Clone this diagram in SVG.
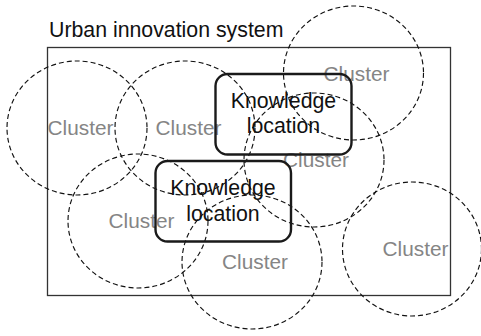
<svg xmlns="http://www.w3.org/2000/svg" width="481" height="336" viewBox="0 0 481 336">
  <style>
    .title { font-family: "Liberation Sans", Arial, sans-serif; font-size: 21.3px; fill: #111; }
    .frame { fill: none; stroke: #333; stroke-width: 1.3; }
    .cluster-ring { fill: none; stroke: #111; stroke-width: 1.15; stroke-dasharray: 5 3; }
    .cluster-label { font-family: "Liberation Sans", Arial, sans-serif; font-size: 20.8px; fill: #858585; text-anchor: middle; }
    .knowledge-box { fill: none; stroke: #1a1a1a; stroke-width: 2.4; }
    .knowledge-label { font-family: "Liberation Sans", Arial, sans-serif; font-size: 21.3px; fill: #111; text-anchor: middle; }
  </style>
  <rect width="481" height="336" fill="#fff"/>

  <!-- system boundary -->
  <g id="urban-innovation-system">
    <text class="title" x="49" y="37">Urban innovation system</text>
    <rect class="frame" x="47.5" y="47.5" width="403" height="248"/>
  </g>

  <!-- clusters: dashed rings with labels -->
  <g id="cluster-1">
    <ellipse class="cluster-ring" cx="77" cy="128" rx="70" ry="67"/>
    <text class="cluster-label" x="80.5" y="135">Cluster</text>
  </g>
  <g id="cluster-2">
    <ellipse class="cluster-ring" cx="185" cy="128" rx="70" ry="67"/>
    <text class="cluster-label" x="188.5" y="135">Cluster</text>
  </g>
  <g id="cluster-3">
    <ellipse class="cluster-ring" cx="353.5" cy="73" rx="70" ry="67"/>
    <text class="cluster-label" x="356.5" y="81">Cluster</text>
  </g>
  <g id="cluster-4">
    <ellipse class="cluster-ring" cx="314" cy="160" rx="70" ry="67"/>
    <text class="cluster-label" x="316" y="167">Cluster</text>
  </g>
  <g id="cluster-5">
    <ellipse class="cluster-ring" cx="138" cy="221" rx="70" ry="67"/>
    <text class="cluster-label" x="141.5" y="228">Cluster</text>
  </g>
  <g id="cluster-6">
    <ellipse class="cluster-ring" cx="252" cy="262" rx="70" ry="67"/>
    <text class="cluster-label" x="255" y="269">Cluster</text>
  </g>
  <g id="cluster-7">
    <ellipse class="cluster-ring" cx="412" cy="249" rx="69.5" ry="67"/>
    <text class="cluster-label" x="415.5" y="256">Cluster</text>
  </g>

  <!-- knowledge locations -->
  <g id="knowledge-location-1">
    <rect class="knowledge-box" x="215.5" y="74" width="136" height="80.5" rx="12"/>
    <text class="knowledge-label" x="283.5" y="108">Knowledge</text>
    <text class="knowledge-label" x="283.5" y="133">location</text>
  </g>
  <g id="knowledge-location-2">
    <rect class="knowledge-box" x="155.5" y="161" width="135.5" height="80.5" rx="12"/>
    <text class="knowledge-label" x="223" y="195">Knowledge</text>
    <text class="knowledge-label" x="223" y="220.5">location</text>
  </g>
</svg>
